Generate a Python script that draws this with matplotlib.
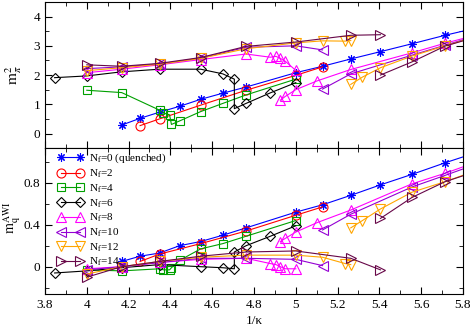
import numpy as np
import matplotlib
matplotlib.use('Agg')
import matplotlib.pyplot as plt
from matplotlib.ticker import MultipleLocator

plt.rcParams['font.family'] = 'Liberation Serif'
plt.rcParams['mathtext.fontset'] = 'stix'

nan = np.nan

# ---- data: 1/kappa, m_pi^2 (top), m_q^AWI (bottom); nan breaks a branch
x0 = [4.167, 4.255, 4.348, 4.444, 4.545, 4.651, 4.762, 5.0, 5.128, 5.263, 5.405, 5.556, 5.714, 5.882]
mpi0 = [0.29, 0.52, 0.73, 0.93, 1.17, 1.38, 1.59, 2.08, 2.30, 2.55, 2.80, 3.07, 3.36, 3.64]
mq0 = [0.05, 0.10, 0.13, 0.20, 0.24, 0.30, 0.37, 0.52, 0.59, 0.68, 0.78, 0.88, 0.99, 1.10]

x2 = [4.255, 4.348, 4.545, 4.762, 5.0, 5.128]
mpi2 = [0.27, 0.50, 0.97, 1.48, 1.99, 2.28]
mq2 = [0.05, 0.12, 0.22, 0.34, 0.49, 0.57]

x4 = [4.0, 4.167, 4.348, 4.367, 4.396, 4.405, 4.444, 4.545, 4.651, 4.762, 5.0]
mpi4 = [1.48, 1.40, 0.80, 0.70, 0.64, 0.31, 0.43, 0.75, 1.03, 1.32, 1.86]
mq4 = [-0.03, -0.04, -0.02, -0.03, -0.03, -0.01, 0.06, 0.17, 0.22, 0.29, 0.44]

x6 = [3.846, 4.0, 4.167, 4.348, 4.545, 4.651, 4.706, 4.706, 4.762, 4.878, 5.0]
mpi6 = [1.91, 1.97, 2.11, 2.20, 2.20, 2.04, 1.86, 0.85, 1.03, 1.39, 1.74]
mq6 = [-0.06, -0.04, -0.01, 0.02, 0.00, -0.01, -0.02, 0.14, 0.20, 0.29, 0.39]

x8 = [4.0, 4.167, 4.348, 4.545, 4.762, 4.878, 4.905, 4.926, 4.950, 5.0, nan,
      4.926, 4.950, 5.0, 5.102, 5.263, 5.556, 5.714, 5.882]
mpi8 = [2.08, 2.20, 2.35, 2.53, 2.72, 2.61, 2.64, 2.57, 2.47, 2.16, nan,
        1.14, 1.27, 1.50, 1.80, 2.19, 2.76, 3.09, 3.40]
mq8 = [-0.02, 0.00, 0.04, 0.07, 0.08, 0.03, 0.02, 0.00, -0.02, -0.02, nan,
       0.24, 0.27, 0.33, 0.42, 0.54, 0.79, 0.89, 1.01]

x10 = [4.0, 4.167, 4.348, 4.545, 4.762, 5.0, 5.128, nan,
       5.128, 5.263, 5.556, 5.714, 5.882]
mpi10 = [2.22, 2.28, 2.38, 2.58, 2.95, 3.00, 2.86, nan,
         1.52, 2.04, 2.68, 3.02, 3.38]
mq10 = [-0.03, 0.00, 0.04, 0.08, 0.08, 0.07, 0.01, nan,
        0.35, 0.50, 0.76, 0.87, 0.99]

x12 = [4.0, 4.167, 4.348, 4.545, 4.762, 5.0, 5.128, 5.236, 5.263, nan,
       5.263, 5.319, 5.405, 5.556, 5.714, 5.882]
mpi12 = [2.15, 2.25, 2.37, 2.57, 2.90, 3.10, 3.17, 3.16, 3.18, nan,
         1.68, 1.93, 2.25, 2.65, 3.00, 3.35]
mq12 = [-0.07, 0.00, 0.05, 0.09, 0.11, 0.11, 0.09, 0.03, 0.02, nan,
        0.37, 0.44, 0.55, 0.71, 0.81, 0.93]

x14 = [4.0, 4.167, 4.348, 4.545, 4.762, 5.0, 5.263, 5.405, nan,
       5.405, 5.556, 5.714, 5.882]
mpi14 = [2.35, 2.30, 2.40, 2.60, 2.98, 3.13, 3.36, 3.38, nan,
         2.00, 2.45, 2.99, 3.34]
mq14 = [-0.10, 0.00, 0.05, 0.10, 0.14, 0.15, 0.08, -0.03, nan,
        0.46, 0.66, 0.81, 0.92]

labels = ['N$_\\mathrm{f}$=0 (quenched)', 'N$_\\mathrm{f}$=2', 'N$_\\mathrm{f}$=4', 'N$_\\mathrm{f}$=6',
          'N$_\\mathrm{f}$=8', 'N$_\\mathrm{f}$=10', 'N$_\\mathrm{f}$=12', 'N$_\\mathrm{f}$=14']

series = [(x0, mpi0, mq0), (x2, mpi2, mq2), (x4, mpi4, mq4), (x6, mpi6, mq6),
          (x8, mpi8, mq8), (x10, mpi10, mq10), (x12, mpi12, mq12), (x14, mpi14, mq14)]
colors = ['#0000ff', '#ff0000', '#00a000', '#000000', '#ff00ff', '#9400d3', '#ffa500', '#670748']
markers = [(8, 2, 0), 'o', 's', 'D', '^', '<', 'v', '>']
msizes = [6, 6.5, 6, 5.3, 6.5, 6.5, 6.5, 6.5]

fig = plt.figure(figsize=(4.71, 3.27), dpi=100)
ax1 = fig.add_axes([0.0955, 0.547, 0.8875, 0.447])
ax2 = fig.add_axes([0.0955, 0.101, 0.8875, 0.446])

for (x, mp, mq), c, m, ms, lab in zip(series, colors, markers, msizes, labels):
    kw = dict(color=c, marker=m, ms=ms, mfc='none', mec=c, mew=0.8, lw=0.8)
    ax1.plot(x, mp, **kw)
    ax2.plot(x, mq, label=lab, **kw)

for ax in (ax1, ax2):
    ax.set_xlim(3.8, 5.8)
    ax.xaxis.set_major_locator(MultipleLocator(0.2))
    ax.xaxis.set_minor_locator(MultipleLocator(0.1))
    ax.tick_params(which='both', direction='in', top=True, right=True, labelsize=9.5)
    ax.tick_params(which='major', length=5)
    ax.tick_params(which='minor', length=3)

ax1.set_ylim(-0.5, 4.5)
ax1.yaxis.set_major_locator(MultipleLocator(1))
ax1.yaxis.set_minor_locator(MultipleLocator(0.5))
ax1.tick_params(labelbottom=False)
ax1.set_ylabel('$\\mathrm{m}_\\pi^{2}$', fontsize=11)
ax1.yaxis.set_label_coords(-0.05, 0.5)

ax2.set_ylim(-0.26, 1.13)
ax2.yaxis.set_major_locator(MultipleLocator(0.4))
ax2.yaxis.set_minor_locator(MultipleLocator(0.2))
ax2.set_yticks([0, 0.4, 0.8])
ax2.set_yticklabels(['0', '0.4', '0.8'])
ax2.set_ylabel('$\\mathrm{m}_\\mathrm{q}^\\mathrm{AWI}$', fontsize=10)
ax2.yaxis.set_label_coords(-0.053, 0.52)
ax2.set_xticks(np.arange(3.8, 5.81, 0.2))
ax2.set_xticklabels(['3.8', '4', '4.2', '4.4', '4.6', '4.8', '5', '5.2', '5.4', '5.6', '5.8'])
ax2.set_xlabel('1/\u03ba', fontsize=9.5, labelpad=3)

ax2.legend(loc='upper left', bbox_to_anchor=(0.015, 1.02), frameon=False, fontsize=8,
           numpoints=2, handlelength=2.3, handletextpad=0.5, labelspacing=0.2,
           borderaxespad=0.2)

fig.savefig('out.png', dpi=100)
